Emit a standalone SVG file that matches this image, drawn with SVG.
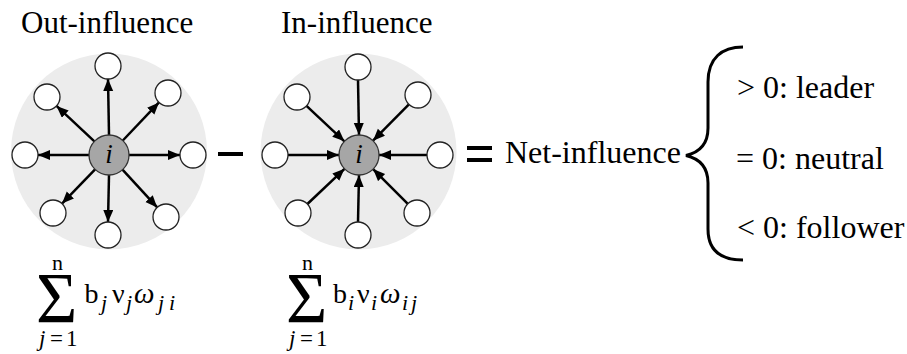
<svg xmlns="http://www.w3.org/2000/svg" width="907" height="354" viewBox="0 0 907 354">
<style>
.bg{fill:#ececec;stroke:none}
.nd{fill:#fff;stroke:#222;stroke-width:1.3}
.ctr{fill:#a6a6a6;stroke:#333;stroke-width:1.3}
.ed{stroke:#000;stroke-width:2.5;fill:none;marker-end:url(#ah)}
text{font-family:'Liberation Serif','Times New Roman',serif;fill:#000}
.it{font-style:italic}
</style>
<defs>
<marker id="ah" markerUnits="userSpaceOnUse" markerWidth="13" markerHeight="11" refX="12" refY="5" orient="auto">
<path d="M0,0 L12,5 L0,10 z" fill="#000"/>
</marker>
</defs>
<rect width="907" height="354" fill="#fff"/>
<g font-family="Liberation Serif, Times New Roman, serif">
<text x="21" y="33" font-size="31">Out-influence</text>
<text x="281" y="33" font-size="31">In-influence</text>
</g>

<g id="out-cluster">
<circle class="bg" cx="109" cy="151.5" r="98"/>
</g>
<g id="in-cluster">
<circle class="bg" cx="358.5" cy="151.5" r="98"/>
</g>

<g id="connectors">
<line class="ed" x1="109" y1="135" x2="108" y2="79"/>
<line class="ed" x1="122.8" y1="140.5" x2="159" y2="102.4"/>
<line class="ed" x1="129" y1="155" x2="180" y2="155"/>
<line class="ed" x1="122.5" y1="169.7" x2="157.2" y2="207.4"/>
<line class="ed" x1="109" y1="175" x2="108" y2="222"/>
<line class="ed" x1="95.1" y1="169.4" x2="62" y2="203.6"/>
<line class="ed" x1="89" y1="155" x2="38" y2="155"/>
<line class="ed" x1="94.4" y1="141.3" x2="56.5" y2="105.9"/>

<line class="ed" x1="358" y1="80" x2="359" y2="135"/>
<line class="ed" x1="408.9" y1="104.3" x2="373" y2="140.7"/>
<line class="ed" x1="427" y1="155" x2="379" y2="155"/>
<line class="ed" x1="407.8" y1="203.8" x2="373.1" y2="169.1"/>
<line class="ed" x1="358" y1="222" x2="359" y2="175"/>
<line class="ed" x1="307.4" y1="204" x2="344.5" y2="168.8"/>
<line class="ed" x1="288" y1="155" x2="339" y2="155"/>
<line class="ed" x1="306.5" y1="105.9" x2="344.4" y2="141.3"/>
</g>

<g id="out-i"><circle class="ctr" cx="109" cy="155" r="20"/><text class="it" x="109" y="163" font-size="27" text-anchor="middle" font-family="Liberation Serif, serif">i</text></g>
<g id="out-n1"><circle class="nd" cx="108" cy="66" r="13"/></g>
<g id="out-n2"><circle class="nd" cx="168" cy="93" r="13"/></g>
<g id="out-n3"><circle class="nd" cx="193" cy="155" r="13"/></g>
<g id="out-n4"><circle class="nd" cx="166" cy="217" r="13"/></g>
<g id="out-n5"><circle class="nd" cx="108" cy="235" r="13"/></g>
<g id="out-n6"><circle class="nd" cx="53" cy="213" r="13"/></g>
<g id="out-n7"><circle class="nd" cx="25" cy="155" r="13"/></g>
<g id="out-n8"><circle class="nd" cx="47" cy="97" r="13"/></g>

<g id="in-i"><circle class="ctr" cx="359" cy="155" r="20"/><text class="it" x="359" y="163" font-size="27" text-anchor="middle" font-family="Liberation Serif, serif">i</text></g>
<g id="in-n1"><circle class="nd" cx="358" cy="67" r="13"/></g>
<g id="in-n2"><circle class="nd" cx="418" cy="95" r="13"/></g>
<g id="in-n3"><circle class="nd" cx="440" cy="155" r="13"/></g>
<g id="in-n4"><circle class="nd" cx="417" cy="213" r="13"/></g>
<g id="in-n5"><circle class="nd" cx="358" cy="235" r="13"/></g>
<g id="in-n6"><circle class="nd" cx="298" cy="213" r="13"/></g>
<g id="in-n7"><circle class="nd" cx="275" cy="155" r="13"/></g>
<g id="in-n8"><circle class="nd" cx="297" cy="97" r="13"/></g>

<g id="minus"><rect x="218" y="152" width="25" height="4" fill="#000"/></g>
<g id="equals"><rect x="467" y="146" width="25" height="4" fill="#000"/><rect x="467" y="158" width="25" height="4" fill="#000"/></g>

<g id="net" font-family="Liberation Serif, serif"><text x="505" y="163" font-size="32">Net-influence</text></g>
<g id="brace"><path d="M743,47 C722,47 708,58 708,82 L708,128 C708,143 701,152 686,155.5 C701,159 708,168 708,183 L708,229 C708,252 722,260 743,260" fill="none" stroke="#000" stroke-width="3"/></g>
<g id="cases" font-family="Liberation Serif, serif">
<text x="737" y="98" font-size="32">&gt; 0: leader</text>
<text x="736" y="169" font-size="32">= 0: neutral</text>
<text x="737" y="238" font-size="32">&lt; 0: follower</text>
</g>

<g id="formula-out" font-family="Liberation Serif, serif">
<text x="36" y="322" font-size="71">Σ</text>
<text x="57.5" y="270" font-size="22" text-anchor="middle">n</text>
<text y="346" font-size="23"><tspan x="39" class="it">j</tspan><tspan x="50">=</tspan><tspan x="66">1</tspan></text>
<text y="303" font-size="28"><tspan x="84.5">b</tspan><tspan x="112">ν</tspan></text>
<text class="it" x="134" y="303" font-size="29">ω</text>
<text class="it" y="310" font-size="22"><tspan x="101">j</tspan><tspan x="126">j</tspan><tspan x="158">j</tspan><tspan x="169">i</tspan></text>
</g>
<g id="formula-in" font-family="Liberation Serif, serif">
<text x="286" y="322" font-size="71">Σ</text>
<text x="307.5" y="270" font-size="22" text-anchor="middle">n</text>
<text y="346" font-size="23"><tspan x="289" class="it">j</tspan><tspan x="300">=</tspan><tspan x="316">1</tspan></text>
<text y="303" font-size="28"><tspan x="333">b</tspan><tspan x="357">ν</tspan></text>
<text class="it" x="380" y="303" font-size="29">ω</text>
<text class="it" y="310" font-size="22"><tspan x="348">i</tspan><tspan x="371">i</tspan><tspan x="402">i</tspan><tspan x="411">j</tspan></text>
</g>
</svg>
